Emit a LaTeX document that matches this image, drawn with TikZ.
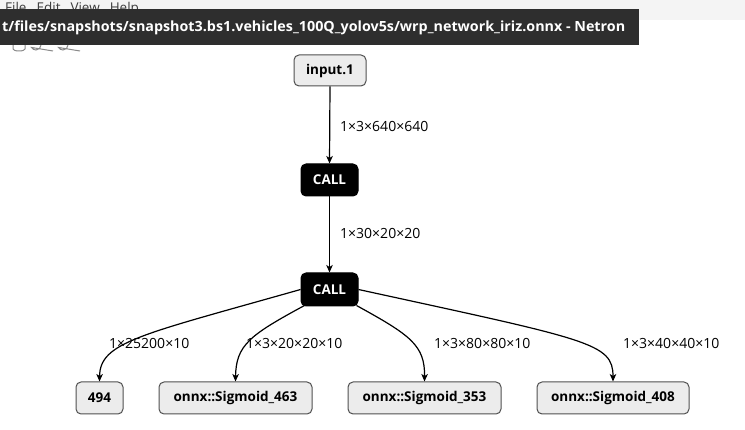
\documentclass[tikz,border=0pt]{standalone}
\usepackage{fontspec}
\setmainfont{Open Sans}
\usepackage{graphicx}
\usetikzlibrary{arrows.meta}
\definecolor{nodefill}{HTML}{ECECEC}
\definecolor{nodeline}{HTML}{505050}
\definecolor{strip}{HTML}{F4F4F4}
\definecolor{tipbg}{HTML}{2E2E2E}
\definecolor{menutext}{HTML}{3C3C3C}
\definecolor{icon}{HTML}{8A8A8A}
\tikzset{
  x=1pt, y=-1pt,
  plain/.style={draw=nodeline, line width=1pt, fill=nodefill, rounded corners=5pt,
    inner sep=0pt, minimum height=31pt, font=\fontsize{13.5}{16}\selectfont\bfseries, text=black},
  callbox/.style={draw=black, line width=1pt, fill=black, rounded corners=5pt,
    inner sep=0pt, minimum width=57pt, minimum height=32pt,
    font=\fontsize{13.5}{16}\selectfont\bfseries, text=white},
  lbl/.style={anchor=west, inner sep=0pt, font=\fontsize{14}{16}\selectfont, text=black},
  edge/.style={draw=black, line width=1.2pt, -{Stealth[length=7.5pt,width=6.5pt,inset=2pt]}},
}
\begin{document}
\begin{tikzpicture}
\useasboundingbox (0,0) rectangle (745,430);
\fill[white] (0,0) rectangle (745,430);
% menu strip
\fill[strip] (0,0) rectangle (745,20);
\node[anchor=base west, inner sep=0pt, text=menutext, font=\fontsize{13.5}{16}\selectfont] (menu) at (5,13)
  {File\hspace{10pt}Edit\hspace{10pt}View\hspace{10pt}Help};
% toolbar icons (partially hidden)
\draw[icon, line width=1pt] (13,44) -- (13,49) arc[start angle=180, end angle=360, x radius=6, y radius=-2] -- (25,44);
\draw[icon, line width=1pt] (41,45) arc[start angle=180, end angle=330, radius=-5] -- (53,51);
\draw[icon, line width=1pt] (68,45) arc[start angle=180, end angle=330, radius=-5] -- (80,51);
% tooltip
\fill[tipbg] (0,9) rectangle (639,45);
\node[anchor=west, inner sep=0pt, text=white, font=\fontsize{14}{16}\selectfont\bfseries] (tip) at (2,28)
  {\resizebox{623pt}{\height}{t/files/snapshots/snapshot3.bs1.vehicles\_100Q\_yolov5s/wrp\_network\_iriz.onnx - Netron}};
% nodes
\node[plain, minimum width=72pt] (inp) at (330,70.5) {input.1};
\node[callbox] (c1) at (329.5,180) {CALL};
\node[callbox, minimum height=33pt] (c2) at (329.5,289.5) {CALL};
\node[plain, minimum width=47pt, minimum height=32pt] (n494) at (99.5,398) {494};
\node[plain, minimum width=153pt, minimum height=32pt] (s463) at (235.5,398) {onnx::Sigmoid\_463};
\node[plain, minimum width=153pt, minimum height=32pt] (s353) at (424.5,398) {onnx::Sigmoid\_353};
\node[plain, minimum width=152pt, minimum height=32pt] (s408) at (613,398) {onnx::Sigmoid\_408};
% edges
\draw[edge] (inp.south) -- (c1.north);
\draw[edge] (c1.south) -- (c2.north);
\draw[edge] (c2.west) .. controls (140,335) and (100,342) .. (n494.north);
\draw[edge] (c2.south west) ++(4,-1) coordinate (a463) (a463) .. controls (250,335) and (236,345) .. (s463.north);
\draw[edge] (c2.south east) ++(-2,-1) coordinate (a353) (a353) .. controls (410,335) and (425,345) .. (s353.north);
\draw[edge] (c2.east) .. controls (590,340) and (613,343) .. (s408.north);
% labels
\node[lbl] (l1) at (340,126) {1×3×640×640};
\node[lbl] (l2) at (340,233) {1×30×20×20};
\node[lbl] (l3) at (109,343) {1×25200×10};
\node[lbl] (l4) at (246,343) {1×3×20×20×10};
\node[lbl] (l5) at (434,343) {1×3×80×80×10};
\node[lbl] (l6) at (623,343) {1×3×40×40×10};
\end{tikzpicture}
\end{document}
